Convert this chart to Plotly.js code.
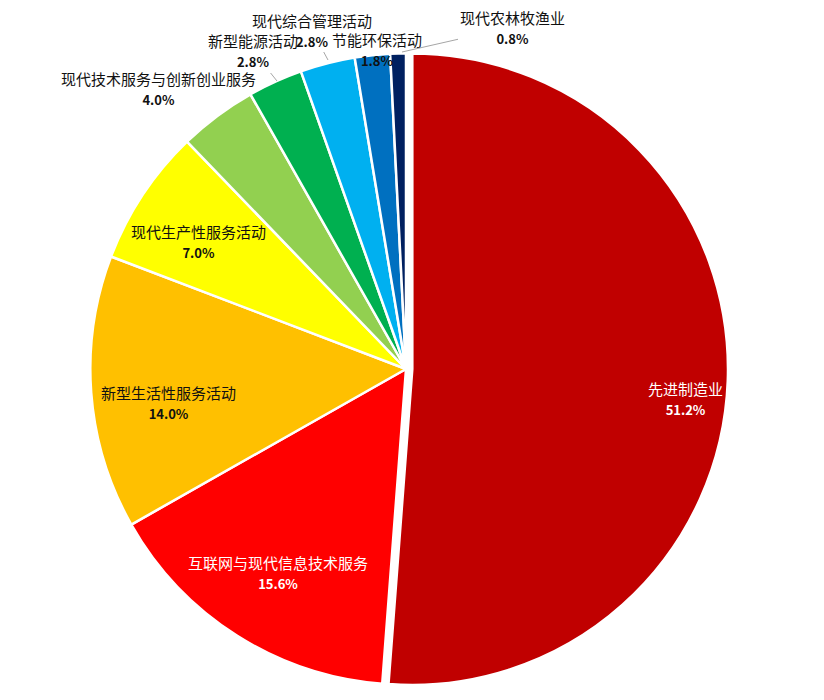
<!DOCTYPE html>
<html>
<head>
<meta charset="utf-8">
<script src="https://cdn.plot.ly/plotly-3.0.1.min.js"></script>
<style>
  html, body { margin: 0; padding: 0; background: #fff; }
  #chart { width: 824px; height: 700px; }
</style>
</head>
<body>
<div id="chart"></div>
<script>
var categories = [
  '先进制造业',
  '互联网与现代信息技术服务',
  '新型生活性服务活动',
  '现代生产性服务活动',
  '现代技术服务与创新创业服务',
  '新型能源活动',
  '现代综合管理活动',
  '节能环保活动',
  '现代农林牧渔业'
];
var shares = [51.2, 15.6, 14.0, 7.0, 4.0, 2.8, 2.8, 1.8, 0.8];

var sliceColors = ['#C00000', '#FF0000', '#FFC000', '#FFFF00', '#92D050',
                   '#00B050', '#00B0F0', '#0070C0', '#002060'];
var textColors = ['#ffffff', '#ffffff', '#111111', '#111111', '#111111',
                  '#111111', '#111111', '#111111', '#111111'];

var W = 824, H = 700;
function px(x) { return x / W; }
function py(y) { return 1 - y / H; }

// label centres and leader line ends, in pixels
var labelPos = [[685, 399], [278, 572], [168, 402], [198, 242], [158, 89],
                [253, 51], [312, 30], [377, 49], [512, 27]];
var leaderEnd = [null, null, null, null, null, [277, 81], [328, 60], null, [402, 52]];

var trace = {
  type: 'pie',
  labels: categories,
  values: shares,
  sort: false,
  direction: 'clockwise',
  rotation: 0,
  pull: [0.02, 0, 0, 0, 0, 0, 0, 0, 0],
  textinfo: 'none',
  hoverinfo: 'label+percent',
  marker: { colors: sliceColors, line: { color: '#ffffff', width: 2.5 } },
  domain: { x: [px(84), px(728)], y: [py(691), py(47)] }
};

var annotations = categories.map(function(name, i) {
  var txt = name + '<br><b><span style="font-size:13px">' + shares[i].toFixed(1) + '%</span></b>';
  var a = {
    xref: 'paper', yref: 'paper',
    text: txt,
    align: 'center',
    xanchor: 'center', yanchor: 'middle',
    font: { family: '"Noto Sans CJK SC", "Noto Sans", sans-serif', size: 15, color: textColors[i] },
    showarrow: false
  };
  var end = leaderEnd[i];
  if (end) {
    a.x = px(end[0]);
    a.y = py(end[1]);
    a.showarrow = true;
    a.arrowhead = 0;
    a.arrowwidth = 1;
    a.arrowcolor = '#a6a6a6';
    a.standoff = 0;
    a.ax = labelPos[i][0] - end[0];
    a.ay = labelPos[i][1] - end[1];
  } else {
    a.x = px(labelPos[i][0]);
    a.y = py(labelPos[i][1]);
  }
  return a;
});

var layout = {
  width: W,
  height: H,
  margin: { l: 0, r: 0, t: 0, b: 0, pad: 0 },
  paper_bgcolor: '#ffffff',
  showlegend: false,
  annotations: annotations
};

Plotly.newPlot('chart', [trace], layout, { displayModeBar: false, staticPlot: true });
</script>
</body>
</html>
